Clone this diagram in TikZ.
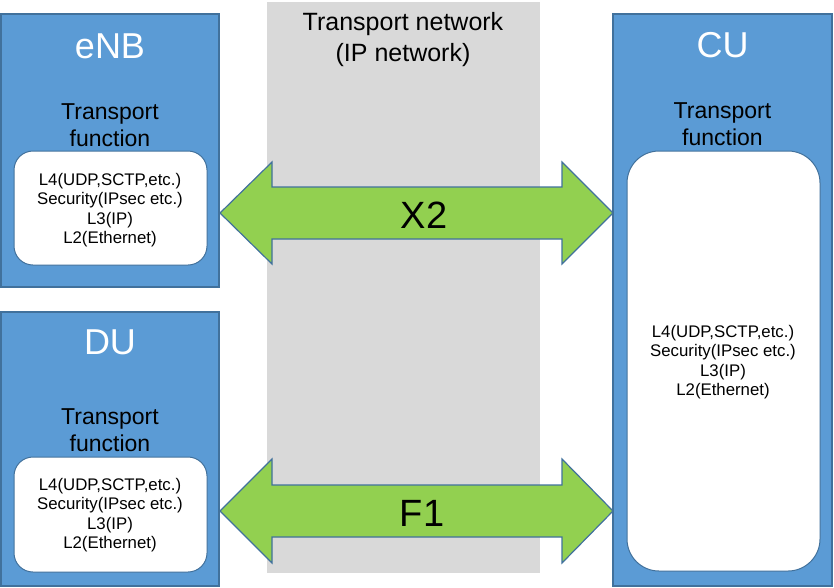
\documentclass[tikz,border=0pt]{standalone}
\usepackage{fontspec}
\setmainfont{Liberation Sans}
\definecolor{boxblue}{HTML}{5B9BD5}
\definecolor{edgeblue}{HTML}{41719C}
\definecolor{arrgreen}{HTML}{92D050}
\definecolor{bandgray}{HTML}{D9D9D9}
\begin{document}
\begin{tikzpicture}[x=1pt,y=-1pt,
  outerbox/.style={fill=boxblue,draw=edgeblue,line width=1.5pt},
  innerbox/.style={fill=white,draw=edgeblue,line width=1pt},
  blockarrow/.style={fill=arrgreen,draw=edgeblue,line width=1.2pt,line join=miter},
  boxtitle/.style={inner sep=0pt,text=white,font=\fontsize{36}{42}\selectfont},
  tfunc/.style={inner sep=0pt,align=center,font=\fontsize{23}{27}\selectfont},
  layers/.style={inner sep=0pt,align=center,font=\fontsize{16.8}{19.5}\selectfont},
  nettitle/.style={inner sep=0pt,align=center,font=\fontsize{25}{31}\selectfont},
  arrlabel/.style={inner sep=0pt,font=\fontsize{38}{44}\selectfont}]
\useasboundingbox (0,0) rectangle (834,587);
% transport network band
\fill[bandgray] (267,2) rectangle (540,573);
\node[nettitle] (tn) at (403,39.5) {Transport network\\(IP network)};
% eNB
\draw[outerbox] (1,14) rectangle (219,287);
\draw[innerbox,rounded corners=19pt] (14,151) rectangle (207,265);
\node[boxtitle] (enb) at (110,46) {eNB};
\node[tfunc] (enbtf) at (110,125) {Transport\\function};
\node[layers] (enbl) at (110,210) {L4(UDP,SCTP,etc.)\\Security(IPsec etc.)\\L3(IP)\\L2(Ethernet)};
% DU
\draw[outerbox] (1,312) rectangle (219,586);
\draw[innerbox,rounded corners=19pt] (14,457) rectangle (207,572);
\node[boxtitle] (du) at (110,342) {DU};
\node[tfunc] (dutf) at (110,430) {Transport\\function};
\node[layers] (dul) at (110,515) {L4(UDP,SCTP,etc.)\\Security(IPsec etc.)\\L3(IP)\\L2(Ethernet)};
% CU
\draw[outerbox] (613,14) rectangle (832,586);
\draw[innerbox,rounded corners=32pt] (627,151) rectangle (820,571);
\node[boxtitle] (cu) at (722.5,45) {CU};
\node[tfunc] (cutf) at (722.5,124) {Transport\\function};
\node[layers] (cul) at (723,362) {L4(UDP,SCTP,etc.)\\Security(IPsec etc.)\\L3(IP)\\L2(Ethernet)};
% X2 arrow
\draw[blockarrow] (220,213) -- (272,162) -- (272,187) -- (562,187) -- (562,162) -- (613,213)
  -- (562,264) -- (562,239) -- (272,239) -- (272,264) -- cycle;
\node[arrlabel] (x2) at (424,215) {X2};
% F1 arrow
\draw[blockarrow] (220,511) -- (272,459) -- (272,485) -- (562,485) -- (562,459) -- (613,511)
  -- (562,563) -- (562,537) -- (272,537) -- (272,563) -- cycle;
\node[arrlabel] (f1) at (422,513) {F1};
\end{tikzpicture}
\end{document}
